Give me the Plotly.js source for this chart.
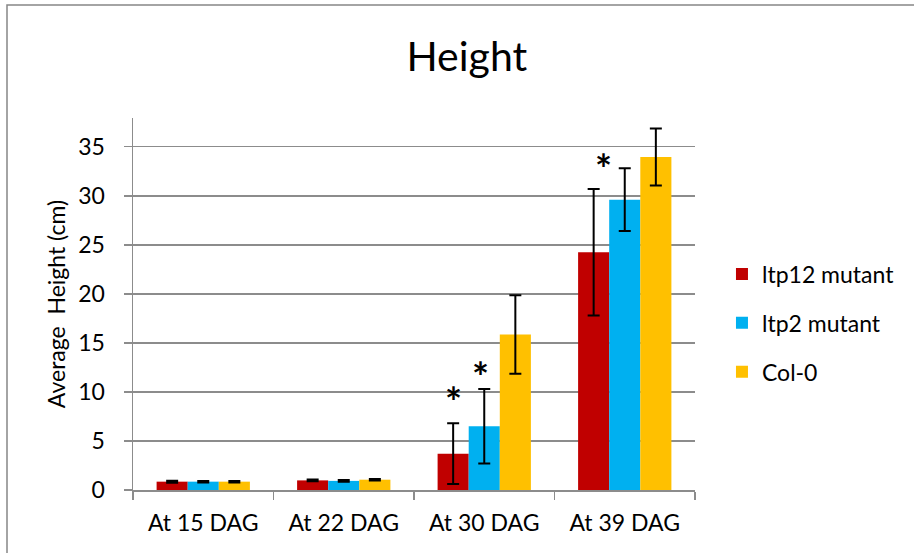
<!DOCTYPE html>
<html>
<head>
<meta charset="utf-8">
<script src="https://cdn.plot.ly/plotly-3.0.1.min.js"></script>
<style>
  html, body { margin: 0; padding: 0; background: #fff; }
  #chart { width: 914px; height: 553px; }
</style>
</head>
<body>
<div id="chart"></div>
<script>
// ---- data ----
const categories = ["At 15 DAG", "At 22 DAG", "At 30 DAG", "At 39 DAG"];
const seriesNames = ["ltp12 mutant", "ltp2 mutant", "Col-0"];
const ltp12Values = [0.85, 0.98, 3.7, 24.25];
const ltp12Errors = [0.1, 0.08, 3.1, 6.45];
const ltp2Values = [0.85, 0.93, 6.5, 29.6];
const ltp2Errors = [0.08, 0.08, 3.8, 3.2];
const col0Values = [0.85, 1.05, 15.85, 33.95];
const col0Errors = [0.08, 0.08, 4.0, 2.9];
// significance marks: category, value (height of the asterisk), series index
const sigCategories = ["At 30 DAG", "At 30 DAG", "At 39 DAG"];
const sigHeights = [9.85, 12.45, 33.67];
const sigSeries = [0, 1, 0];
const yTickValues = [0, 5, 10, 15, 20, 25, 30, 35];

const colors = ["#C00000", "#00B0F0", "#FFC000"];
const allValues = [ltp12Values, ltp2Values, col0Values];
const allErrors = [ltp12Errors, ltp2Errors, col0Errors];

const FONT = "Lato, 'Open Sans', sans-serif";

const traces = seriesNames.map((name, i) => ({
  type: "bar",
  name: name,
  x: categories,
  y: allValues[i],
  legendgroup: "g" + i,
  marker: { color: colors[i], line: { width: 0 } },
  error_y: { type: "data", array: allErrors[i], visible: true, color: "#000", thickness: 2, width: 6 },
  hoverinfo: "x+y+name"
}));

// asterisk offsets: each bar is 1/3 of the group width
const groupFrac = 1 - 0.336;
const annotations = sigCategories.map((c, k) => ({
  x: c, y: sigHeights[k], xref: "x", yref: "y",
  text: "<b>*</b>", showarrow: false,
  font: { family: FONT, size: 40, color: "#000" },
  xanchor: "center", yanchor: "middle",
  xshift: (sigSeries[k] - 1) * 140 * groupFrac / 3 + (k === 2 ? 10 : (k === 1 ? -4 : 0)),
  yshift: -9
}));

const layout = {
  width: 914, height: 553,
  margin: { l: 133, r: 219, t: 118, b: 63 },
  paper_bgcolor: "#fff", plot_bgcolor: "#fff",
  font: { family: FONT, size: 23, color: "#000" },
  title: {
    text: "Height",
    font: { family: FONT, size: 41, color: "#000" },
    xref: "paper", x: 0.594, xanchor: "center",
    yref: "container", y: 1 - 57 / 553, yanchor: "middle"
  },
  barmode: "group",
  bargap: 0.336,
  bargroupgap: 0,
  showlegend: true,
  legend: {
    x: 1.048, xanchor: "left", y: 0.449, yanchor: "middle",
    font: { family: FONT, size: 23, color: "#000" },
    tracegroupgap: 16, bgcolor: "rgba(0,0,0,0)", borderwidth: 0,
    traceorder: "grouped"
  },
  xaxis: {
    type: "category",
    showline: true, linecolor: "#8c8c8c", linewidth: 1.5,
    ticks: "outside", tickson: "boundaries", ticklen: 8, tickcolor: "#8c8c8c", tickwidth: 1.5,
    showgrid: false, zeroline: false,
    tickfont: { family: FONT, size: 23, color: "#000" },
    ticklabelstandoff: 12,
    fixedrange: true
  },
  yaxis: {
    range: [0, 37.93],
    tickvals: yTickValues,
    ticktext: yTickValues.map(String),
    showline: true, linecolor: "#8c8c8c", linewidth: 1.5,
    ticks: "outside", ticklen: 8, tickcolor: "#8c8c8c", tickwidth: 1.5,
    showgrid: true, gridcolor: "#8c8c8c", gridwidth: 1.5,
    zeroline: false,
    tickfont: { family: FONT, size: 23, color: "#000" },
    ticklabelstandoff: 14,
    title: { text: "Average  Height (cm)", font: { family: FONT, size: 23, color: "#000" }, standoff: 6 },
    fixedrange: true
  },
  annotations: annotations,
  shapes: [{
    type: "path", xref: "paper", yref: "paper",
    path: "M " + ((7 - 133) / 562) + " " + ((490 - 560) / 372) +
          " L " + ((7 - 133) / 562) + " " + ((490 - 5) / 372) +
          " L " + ((920 - 133) / 562) + " " + ((490 - 5) / 372),
    line: { color: "#868686", width: 1.5 }
  }]
};

Plotly.newPlot("chart", traces, layout, { displayModeBar: false, staticPlot: true });
</script>
</body>
</html>
